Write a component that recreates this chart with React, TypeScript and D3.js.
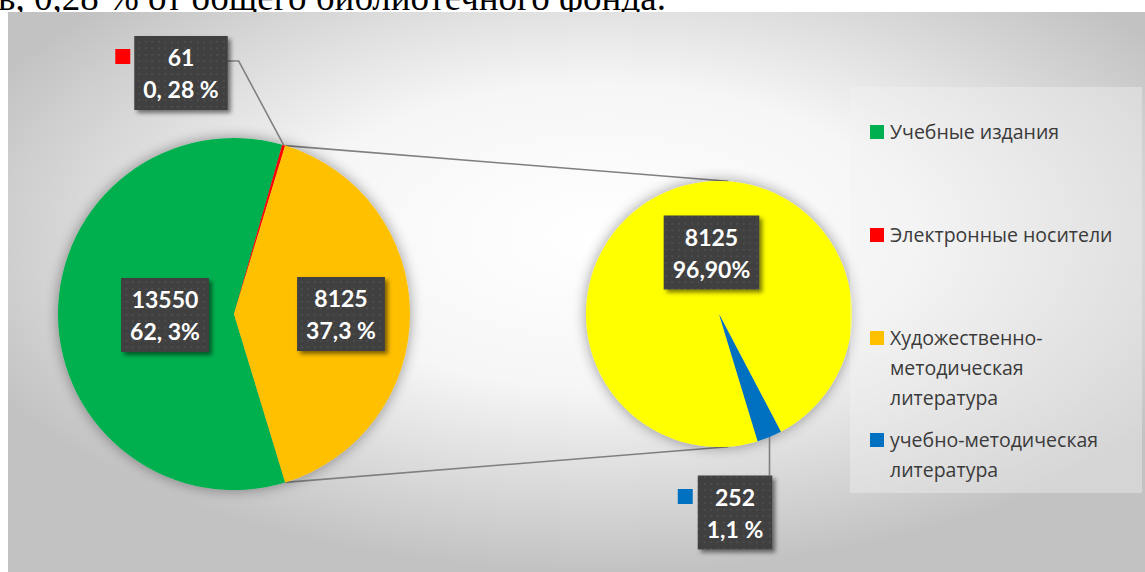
import { useEffect, useRef } from "react";
import * as d3 from "d3";

const W = 1145;
const H = 572;

const caption = "в, 0,28 % от общего библиотечного фонда.";

// legend categories
const legendLines = [
  ["Учебные издания"],
  ["Электронные носители"],
  ["Художественно-", "методическая", "литература"],
  ["учебно-методическая", "литература"],
];
const legendColors = ["#00B050", "#FF0000", "#FFC000", "#0070C0"];

// first pie: green, red, "other" (orange) - slice shares as drawn in the picture
const mainShares = [59.1, 0.28, 40.6];
const mainColors = ["#00B050", "#FF0000", "#FFC000"];
const mainCounts = ["13550", "61", "8125"];
const mainPercents = ["62, 3%", "0, 28 %", "37,3 %"];

// second pie: split of the orange slice
const subValues = [8125, 252];
const subColors = ["#FFFF00", "#0070C0"];
const subCounts = ["8125", "252"];
const subPercents = ["96,90%", "1,1 %"];

export default function App() {
  const svgRef = useRef<SVGSVGElement>(null);

  useEffect(() => {
    if (!svgRef.current) return;
    const svg = d3.select(svgRef.current);
    svg.selectAll("*").remove();

    const defs = svg.append("defs");

    const bg = defs
      .append("radialGradient")
      .attr("id", "bg")
      .attr("cx", "52%")
      .attr("cy", "40%")
      .attr("r", "60%");
    bg.append("stop").attr("offset", "0%").attr("stop-color", "#ffffff");
    bg.append("stop").attr("offset", "45%").attr("stop-color", "#f6f6f6");
    bg.append("stop").attr("offset", "100%").attr("stop-color", "#c2c2c2");

    const glow = defs
      .append("filter")
      .attr("id", "glow")
      .attr("x", "-30%")
      .attr("y", "-30%")
      .attr("width", "160%")
      .attr("height", "160%");
    glow.append("feGaussianBlur").attr("in", "SourceAlpha").attr("stdDeviation", 7).attr("result", "b");
    glow
      .append("feComponentTransfer")
      .attr("in", "b")
      .attr("result", "s")
      .append("feFuncA")
      .attr("type", "linear")
      .attr("slope", 0.4);
    const gm = glow.append("feMerge");
    gm.append("feMergeNode").attr("in", "s");
    gm.append("feMergeNode").attr("in", "SourceGraphic");

    const boxShadow = defs
      .append("filter")
      .attr("id", "boxShadow")
      .attr("x", "-20%")
      .attr("y", "-20%")
      .attr("width", "150%")
      .attr("height", "150%");
    boxShadow
      .append("feDropShadow")
      .attr("dx", 3)
      .attr("dy", 3)
      .attr("stdDeviation", 2)
      .attr("flood-color", "#000")
      .attr("flood-opacity", 0.5);

    const dots = defs
      .append("pattern")
      .attr("id", "dots")
      .attr("width", 6.5)
      .attr("height", 6.5)
      .attr("patternUnits", "userSpaceOnUse");
    dots.append("rect").attr("width", 6.5).attr("height", 6.5).attr("fill", "#3f3f3f");
    dots.append("rect").attr("x", 2).attr("y", 2).attr("width", 1.6).attr("height", 1.6).attr("fill", "#555");

    // caption from the document above the chart (cut by the page edge, as in the source)
    svg
      .append("text")
      .attr("x", -2)
      .attr("y", 10)
      .attr("font-family", "'Liberation Serif', 'Times New Roman', serif")
      .attr("font-size", 37)
      .attr("fill", "#000")
      .text(caption);

    // chart area
    svg.append("rect").attr("x", 8).attr("y", 12).attr("width", W - 8).attr("height", H - 12).attr("fill", "url(#bg)");

    const start = (163.1 * Math.PI) / 180;

    const c1 = { x: 234, y: 314, r: 176 };
    const c2 = { x: 719, y: 314, r: 133 };

    const pie1 = d3.pie<number>().sort(null).startAngle(start).endAngle(start + 2 * Math.PI)(mainShares);
    const pie2 = d3.pie<number>().sort(null).startAngle(start).endAngle(start + 2 * Math.PI)(subValues);

    const arc1 = d3.arc<d3.PieArcDatum<number>>().innerRadius(0).outerRadius(c1.r);
    const arc2 = d3.arc<d3.PieArcDatum<number>>().innerRadius(0).outerRadius(c2.r);

    const polar = (c: { x: number; y: number }, r: number, a: number) => [c.x + r * Math.sin(a), c.y - r * Math.cos(a)];

    // connector lines between the pies
    const other = pie1[2];
    const pTop = polar(c1, c1.r, other.startAngle);
    const pBot = polar(c1, c1.r, other.endAngle);
    const qTop = polar(c2, c2.r, (4 * Math.PI) / 180);
    const qBot = polar(c2, c2.r, (176 * Math.PI) / 180);
    svg
      .append("g")
      .attr("stroke", "#7f7f7f")
      .attr("stroke-width", 1.6)
      .selectAll("line")
      .data([
        [pTop, qTop],
        [pBot, qBot],
      ])
      .join("line")
      .attr("x1", (d) => d[0][0])
      .attr("y1", (d) => d[0][1])
      .attr("x2", (d) => d[1][0])
      .attr("y2", (d) => d[1][1]);

    const g1 = svg.append("g").attr("transform", `translate(${c1.x},${c1.y})`).attr("filter", "url(#glow)");
    g1.selectAll("path")
      .data(pie1)
      .join("path")
      .attr("d", arc1)
      .attr("fill", (_, i) => mainColors[i]);

    const g2 = svg.append("g").attr("transform", `translate(${c2.x},${c2.y})`).attr("filter", "url(#glow)");
    g2.selectAll("path")
      .data(pie2)
      .join("path")
      .attr("d", arc2)
      .attr("fill", (_, i) => subColors[i]);

    // leader line anchors for outside labels
    const redMid = (pie1[1].startAngle + pie1[1].endAngle) / 2;
    const redPt = polar(c1, c1.r, redMid);
    const blueMid = (pie2[1].startAngle + pie2[1].endAngle) / 2;
    const bluePt = polar(c2, c2.r, blueMid);

    // legend panel
    svg
      .append("rect")
      .attr("x", 850)
      .attr("y", 87)
      .attr("width", 292)
      .attr("height", 406)
      .attr("fill", "#f2f2f2")
      .attr("fill-opacity", 0.4);

    const leg = svg
      .append("g")
      .attr("font-family", "'Open Sans', 'Noto Sans', sans-serif")
      .attr("font-size", 19.5)
      .attr("fill", "#3a3a3a");
    const legY = [132, 235, 338, 440];
    legendLines.forEach((lines, i) => {
      leg
        .append("rect")
        .attr("x", 870)
        .attr("y", legY[i] - 7)
        .attr("width", 14)
        .attr("height", 14)
        .attr("fill", legendColors[i]);
      lines.forEach((t, j) => {
        leg
          .append("text")
          .attr("x", 890)
          .attr("y", legY[i] + 7 + j * 30)
          .text(t);
      });
    });

    // data label boxes
    const labelFont = "Lato, 'Open Sans', sans-serif";
    const box = (cx: number, cy: number, lines: string[]) => {
      const g = svg.append("g");
      const rect = g.append("rect").attr("fill", "url(#dots)").attr("filter", "url(#boxShadow)");
      let maxW = 0;
      lines.forEach((t, j) => {
        const txt = g
          .append("text")
          .attr("x", cx)
          .attr("y", cy - 7 + j * 32)
          .attr("text-anchor", "middle")
          .attr("font-family", labelFont)
          .attr("font-weight", 700)
          .attr("font-size", 23)
          .attr("fill", "#fff")
          .text(t);
        maxW = Math.max(maxW, (txt.node() as SVGTextElement).getComputedTextLength());
      });
      const w = maxW + 18;
      rect.attr("x", cx - w / 2).attr("y", cy - 37).attr("width", w).attr("height", 74);
      return { x0: cx - w / 2, x1: cx + w / 2, y0: cy - 37, y1: cy + 37 };
    };

    const lineG = svg.append("g").attr("stroke", "#7f7f7f").attr("stroke-width", 1.6).attr("fill", "none");

    box(c1.x - 69, c1.y + 1, [mainCounts[0], mainPercents[0]]);
    box(c1.x + 107, c1.y, [mainCounts[2], mainPercents[2]]);
    box(c2.x - 7.5, c2.y - 61.5, [subCounts[0], subPercents[0]]);
    const rb = box(181, 73, [mainCounts[1], mainPercents[1]]);
    lineG
      .append("path")
      .attr("d", `M${rb.x1},${rb.y0 + 25}H${rb.x1 + 11}L${redPt[0]},${redPt[1]}`);
    const bb = box(735, 512.5, [subCounts[1], subPercents[1]]);
    lineG.append("path").attr("d", `M${bluePt[0]},${bluePt[1]}V${bb.y0}`);

    // small colour keys next to outside labels
    svg.append("rect").attr("x", rb.x0 - 19).attr("y", 49).attr("width", 15).attr("height", 15).attr("fill", mainColors[1]);
    svg.append("rect").attr("x", bb.x0 - 20).attr("y", 489).attr("width", 15).attr("height", 15).attr("fill", subColors[1]);
  }, []);

  return (
    <svg
      ref={svgRef}
      width={W}
      height={H}
      style={{ position: "absolute", left: 0, top: 0, background: "#fff" }}
    />
  );
}
